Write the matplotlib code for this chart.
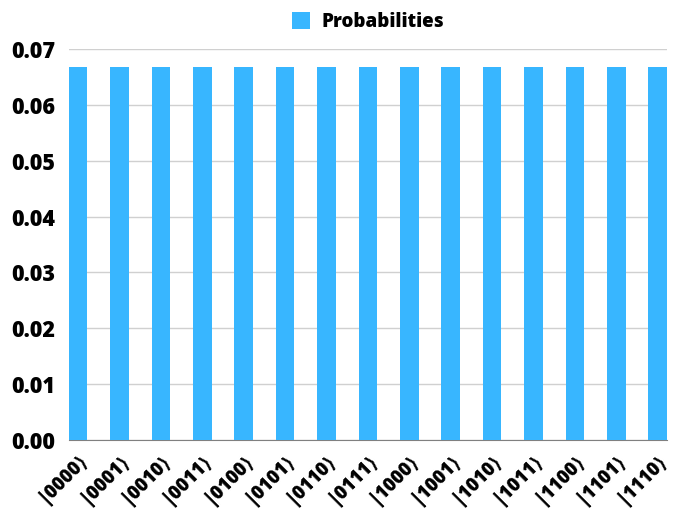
import matplotlib.pyplot as plt

states = ["|0000⟩", "|0001⟩", "|0010⟩", "|0011⟩", "|0100⟩", "|0101⟩", "|0110⟩", "|0111⟩",
          "|1000⟩", "|1001⟩", "|1010⟩", "|1011⟩", "|1100⟩", "|1101⟩", "|1110⟩"]
probs = [0.0667] * 15

plt.rcParams['font.family'] = ['Open Sans', 'DejaVu Sans']
plt.rcParams['font.weight'] = 800

fig = plt.figure(figsize=(6.75, 5.13), dpi=100)
ax = fig.add_axes([0.102, 0.1423, 0.886, 0.7622])

color = '#38b6ff'
x = range(len(states))
ax.bar(x, probs, width=0.45, color=color, label='Probabilities', zorder=3)

ax.set_xlim(-0.225, len(states) - 1 + 0.225)
ax.set_ylim(0, 0.07)
ax.set_yticks([0.0, 0.01, 0.02, 0.03, 0.04, 0.05, 0.06, 0.07])
ax.set_yticklabels([f"{v:.2f}" for v in ax.get_yticks()], fontsize=15.5, fontweight=800)
ax.set_xticks(list(x))
ax.set_xticklabels(states, rotation=45, ha='right', rotation_mode='anchor',
                   fontsize=13.5, fontweight=800)

ax.grid(axis='y', color='#d0d0d0', linewidth=1, zorder=0)
for s in ['top', 'right', 'left']:
    ax.spines[s].set_visible(False)
ax.spines['bottom'].set_color('#808080')
ax.tick_params(axis='y', length=0, pad=10)
ax.tick_params(axis='x', length=0, pad=7)

ax.legend(loc='lower center', bbox_to_anchor=(0.5, 1.0), frameon=False,
          handlelength=1.0, handleheight=1.0, handletextpad=0.6,
          prop={'weight': 800, 'size': 13.5})

fig.savefig('out.png', dpi=100)
